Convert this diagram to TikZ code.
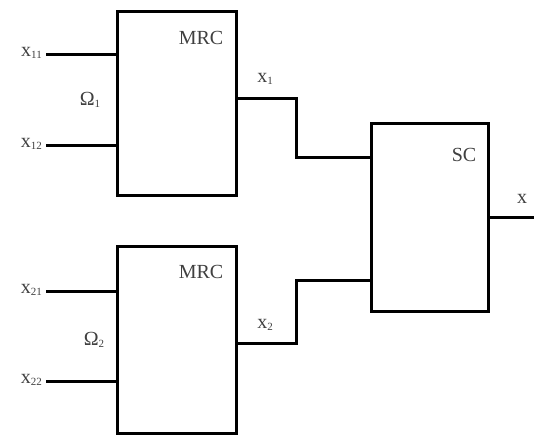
\documentclass[tikz,border=0pt]{standalone}
\usepackage{fontspec}
\setmainfont{Liberation Serif}
\newcommand{\sbx}[1]{\raisebox{-0.25ex}{\fontsize{11}{12}\selectfont #1}}
\begin{document}
\begin{tikzpicture}[x=1pt,y=-1pt,
  blk/.style={draw, line width=2.8pt, minimum width=119pt, anchor=north west, inner sep=0pt},
  wire/.style={line width=3pt},
  lbl/.style={font=\fontsize{20}{22}\selectfont, inner sep=0pt, text=black!75}]
\useasboundingbox (0,0) rectangle (534,437);
% boxes
\node[blk, minimum height=184pt] (m1) at (116,10) {};
\node[blk, minimum height=187pt] (m2) at (116,245) {};
\node[blk, minimum width=117pt, minimum height=188pt] (sc) at (370,122) {};
\node[lbl] (t1) at (201,38) {MRC};
\node[lbl] (t2) at (201,272) {MRC};
\node[lbl] (t3) at (464,155) {SC};
% inputs
\coordinate (i11) at (46,54);
\coordinate (i12) at (46,145);
\coordinate (i21) at (46,291);
\coordinate (i22) at (46,381);
\draw[wire] (i11) -- (i11 -| m1.west);
\draw[wire] (i12) -- (i12 -| m1.west);
\draw[wire] (i21) -- (i21 -| m2.west);
\draw[wire] (i22) -- (i22 -| m2.west);
\node[lbl, anchor=east] (l11) at (42,53) {x\sbx{11}};
\node[lbl, anchor=east] (l12) at (42,144) {x\sbx{12}};
\node[lbl, anchor=east] (l21) at (42,290) {x\sbx{21}};
\node[lbl, anchor=east] (l22) at (42,380) {x\sbx{22}};
\node[lbl] (o1) at (90,100) {Ω\sbx{1}};
\node[lbl] (o2) at (94,340) {Ω\sbx{2}};
% outputs of MRC
\coordinate (a1) at (235,98);
\coordinate (b1) at (370,157);
\draw[wire] (a1) -- (296,98) -- (296,157) -- (b1);
\coordinate (a2) at (235,343);
\coordinate (b2) at (370,280);
\draw[wire] (a2) -- (296,343) -- (296,280) -- (b2);
\node[lbl] (x1) at (265,79) {x\sbx{1}};
\node[lbl] (x2) at (265,325) {x\sbx{2}};
% SC output
\coordinate (e) at (534,217);
\draw[wire] (sc.east |- e) -- (e);
\node[lbl] (x) at (522,199) {x};
\end{tikzpicture}
\end{document}
